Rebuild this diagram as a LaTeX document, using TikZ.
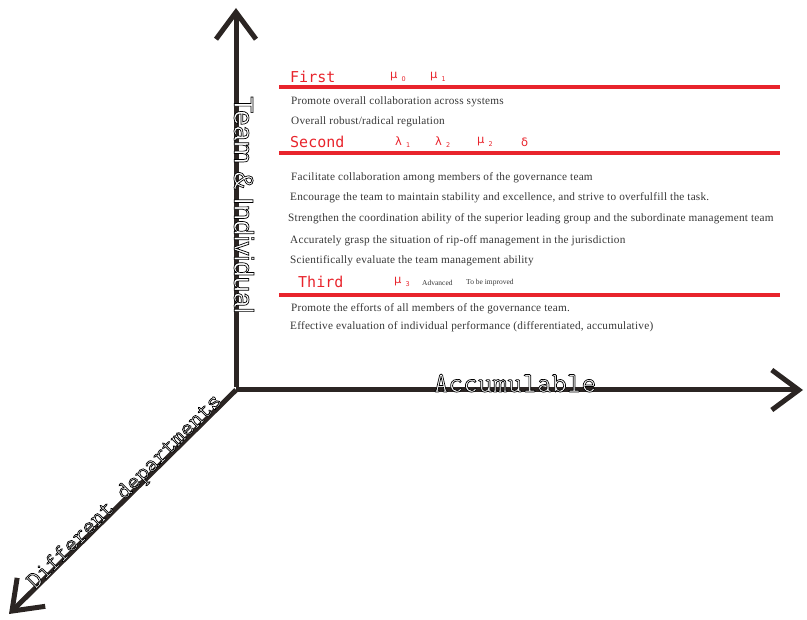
\documentclass[tikz,border=0pt]{standalone}
\usepackage{fontspec}
\setmainfont{Liberation Serif}[LetterSpace=2]
\newfontfamily\headfont{DejaVu Sans Mono}
\newfontfamily\labsans{Liberation Sans}
\newfontfamily\greekfont{DejaVu Sans}
\newfontfamily\smallfont{Liberation Serif}
\usetikzlibrary{arrows.meta}
\definecolor{axiscol}{HTML}{2B2523}
\definecolor{redc}{HTML}{E8242C}
\definecolor{txt}{HTML}{363636}
\newcommand{\gsb}[2]{#1\hspace{4pt}\raisebox{-2.5pt}{\fontsize{6.5}{6.5}\selectfont #2}}
\newcommand{\outl}[1]{{\color{white}\special{pdf:literal direct 0 0 0 RG 0.7 w 2 Tr}#1\special{pdf:literal direct 0 Tr}}}
\begin{document}
\begin{tikzpicture}[x=1pt,y=-1pt,
 axis/.style={line width=5pt,draw=axiscol,-{Straight Barb[length=27pt,width=40pt]}},
 sep/.style={line width=3.5pt,draw=redc},
 body/.style={anchor=west,inner sep=0pt,text=txt,font=\fontsize{11.25}{13}\selectfont},
 head/.style={anchor=west,inner sep=0pt,text=redc,font=\headfont\fontsize{15}{16}\selectfont},
 greek/.style={anchor=west,inner sep=0pt,text=redc,font=\greekfont\fontsize{11.5}{13}\selectfont},
 small/.style={anchor=west,inner sep=0pt,text=txt,font=\smallfont\fontsize{7.5}{8}\selectfont},
 axlab/.style={inner sep=0pt}]
\useasboundingbox (0,0) rectangle (807,620);
% axes
\coordinate (O) at (236,390);
\coordinate (ytip) at (236,8);
\coordinate (xtip) at (803,390);
\coordinate (ztip) at (9,614);
\draw[axis] ([yshift=2.5pt]O) -- (ytip);
\draw[axis] (O) -- (xtip);
\draw[axis] (O) -- (ztip);
% axis labels
\node[axlab,rotate=-90,font=\labsans\fontsize{27.5}{29}\selectfont] (lteam) at (244,205) {\outl{Team \& Individual}};
\node[axlab,anchor=base,font=\ttfamily\fontsize{28.7}{30}\selectfont] (lacc) at (515,392) {\outl{Accumulable}};
\node[axlab,anchor=base,rotate=45,font=\ttfamily\fontsize{24.5}{26}\selectfont] (ldep) at (129,496) {\outl{Different departments}};
% separators
\draw[sep] (279,87) -- (780,87);
\draw[sep] (279,153) -- (780,153);
\draw[sep] (279,295) -- (780,295);
% First
\node[head] (h1) at (290,77) {First};
\node[greek] (m0) at (390,77) {\gsb{μ}{0}};
\node[greek] (m1) at (430,77) {\gsb{μ}{1}};
\node[body] (t1) at (291,102) {Promote overall collaboration across systems};
\node[body] (t2) at (291,122) {Overall robust/radical regulation};
% Second
\node[head] (h2) at (290,142) {Second};
\node[greek] (l1) at (395,142) {\gsb{λ}{1}};
\node[greek] (l2) at (435,142) {\gsb{λ}{2}};
\node[greek] (m2) at (477,142) {\gsb{μ}{2}};
\node[greek] (dd) at (521,142) {δ};
\node[body] (t3) at (291,178) {Facilitate collaboration among members of the governance team};
\node[body] (t4) at (290,198) {Encourage the team to maintain stability and excellence, and strive to overfulfill the task.};
\node[body] (t5) at (288,219) {Strengthen the coordination ability of the superior leading group and the subordinate management team};
\node[body] (t6) at (290,241) {Accurately grasp the situation of rip-off management in the jurisdiction};
\node[body] (t7) at (290,261) {Scientifically evaluate the team management ability};
% Third
\node[head] (h3) at (298,282) {Third};
\node[greek] (m3) at (394,282) {\gsb{μ}{3}};
\node[small] (adv) at (422,283) {Advanced};
\node[small] (imp) at (466,283) {To be improved};
\node[body] (t8) at (291,309) {Promote the efforts of all members of the governance team.};
\node[body] (t9) at (290,327) {Effective evaluation of individual performance (differentiated, accumulative)};
\end{tikzpicture}
\end{document}
